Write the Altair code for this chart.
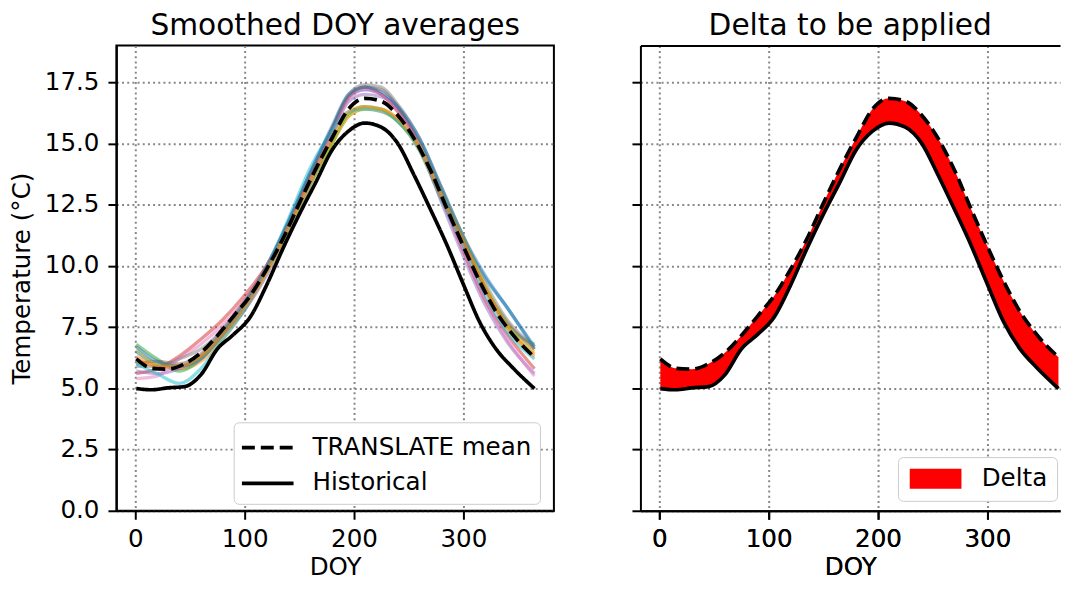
import altair as alt
import pandas as pd

FONT = "DejaVu Sans"

# ---- data ----
days_black = [1, 15, 30, 45, 60, 75, 90, 105, 120, 135, 150, 165, 180, 195, 210,
              225, 240, 255, 270, 285, 300, 315, 330, 345, 365]
historical = [4.99, 4.94, 5.02, 5.07, 5.55, 6.6, 7.2, 7.9, 9.2, 10.7, 12.1, 13.4,
              14.73, 15.5, 15.83, 15.66, 15.0, 13.7, 12.3, 10.85, 9.25, 7.7, 6.6, 5.85, 4.99]
translate_mean = [6.2, 5.82, 5.78, 6.0, 6.45, 7.15, 7.95, 8.77, 9.85, 11.1, 12.55, 13.95,
                  15.22, 16.4, 16.84, 16.72, 16.15, 15.2, 13.9, 12.33, 10.8, 9.36, 8.12, 7.2, 6.27]

days_members = [1, 20, 40, 60, 80, 100, 120, 140, 160, 180, 195, 210, 225, 240,
                260, 280, 300, 320, 340, 365]
member_01 = [6.5, 6.0, 5.9, 6.3, 7.3, 8.5, 10.0, 11.8, 13.8, 15.6, 16.9, 17.2, 17.0, 16.4, 15.1, 13.1, 11.1, 9.5, 8.3, 6.6]
member_02 = [6.3, 5.9, 5.8, 6.1, 7.0, 8.2, 9.7, 11.5, 13.4, 15.0, 16.1, 16.4, 16.3, 15.9, 14.7, 12.7, 10.9, 9.0, 7.5, 6.4]
member_03 = [6.8, 6.2, 5.7, 6.2, 7.2, 8.5, 9.8, 11.4, 13.3, 15.0, 16.2, 16.5, 16.4, 15.9, 14.8, 12.8, 11.0, 9.1, 7.6, 6.8]
member_04 = [5.6, 5.8, 6.3, 7.0, 7.8, 8.8, 10.0, 11.7, 13.7, 15.6, 16.9, 17.3, 17.0, 16.3, 14.9, 12.8, 10.6, 8.6, 7.2, 5.8]
member_05 = [5.7, 5.6, 5.8, 6.3, 7.2, 8.2, 9.6, 11.3, 13.3, 15.3, 16.7, 17.0, 16.9, 16.5, 14.9, 12.6, 10.4, 8.4, 6.9, 5.6]
member_06 = [6.0, 6.1, 6.0, 6.4, 7.4, 8.6, 9.9, 11.7, 13.6, 15.5, 16.9, 17.3, 17.2, 16.5, 15.0, 13.0, 11.0, 9.1, 7.7, 6.6]
member_07 = [5.4, 5.5, 6.2, 6.8, 7.6, 8.6, 9.9, 11.6, 13.5, 15.4, 16.8, 17.2, 17.0, 16.3, 14.9, 12.8, 10.6, 8.6, 7.0, 5.5]
member_08 = [5.9, 5.9, 6.2, 6.6, 7.4, 8.5, 9.9, 11.6, 13.7, 15.6, 17.0, 17.4, 17.3, 16.6, 15.2, 13.2, 11.2, 9.3, 7.8, 6.7]
member_09 = [6.6, 6.0, 5.9, 6.3, 7.2, 8.3, 9.7, 11.4, 13.3, 15.0, 16.1, 16.4, 16.4, 16.0, 14.9, 13.0, 11.2, 9.2, 7.6, 6.5]
member_10 = [6.0, 5.6, 5.2, 5.8, 7.0, 8.2, 9.9, 11.9, 14.0, 15.5, 16.3, 16.4, 16.3, 15.9, 14.7, 12.7, 10.8, 8.8, 7.3, 6.2]
member_11 = [6.7, 6.1, 5.9, 6.2, 7.2, 8.4, 9.9, 11.8, 13.8, 15.7, 17.0, 17.3, 17.1, 16.5, 15.2, 13.2, 11.2, 9.6, 8.3, 6.7]
member_12 = [6.2, 5.9, 5.9, 6.3, 7.2, 8.3, 9.8, 11.6, 13.5, 15.2, 16.3, 16.5, 16.4, 16.0, 14.8, 12.8, 11.0, 9.1, 7.5, 6.3]
members = [member_01, member_02, member_03, member_04, member_05, member_06,
           member_07, member_08, member_09, member_10, member_11, member_12]
member_colors = ["#1f77b4", "#ff7f0e", "#2ca02c", "#d62728", "#9467bd", "#8c564b",
                 "#e377c2", "#7f7f7f", "#bcbd22", "#17becf", "#1f77b4", "#ff7f0e"]

series_names = ["TRANSLATE mean", "Historical"]
x_ticks = [0, 100, 200, 300]
y_ticks = [0, 2.5, 5, 7.5, 10, 12.5, 15, 17.5]

# ---- tables ----
member_names = [f"m{i+1:02d}" for i in range(len(members))]
df_members = pd.DataFrame(
    [{"doy": d, "temp": v, "member": member_names[i]}
     for i, vals in enumerate(members) for d, v in zip(days_members, vals)]
)
df_black = pd.DataFrame(
    [{"doy": d, "temp": v, "series": "TRANSLATE mean"} for d, v in zip(days_black, translate_mean)]
    + [{"doy": d, "temp": v, "series": "Historical"} for d, v in zip(days_black, historical)]
)
df_wide = pd.DataFrame({"doy": days_black, "hist": historical, "mean": translate_mean,
                        "label": ["Delta"] * len(days_black)})

# ---- scales / axes ----
FS = 24.7
PX_PER_DAY = 1.1
W_L, W_R, H = 440, 422, 468
xscale_l = alt.Scale(domain=[-17.2, -17.2 + W_L / PX_PER_DAY], nice=False, zero=False)
xscale_r = alt.Scale(domain=[-17.2, -17.2 + W_R / PX_PER_DAY], nice=False, zero=False)
yscale = alt.Scale(domain=[0, 19], nice=False, zero=False)
xaxis = alt.Axis(values=x_ticks, format="d", title="DOY")
xaxis_top = alt.Axis(orient="top", labels=False, ticks=False, title=None, grid=False, domain=True)
yaxis_left = alt.Axis(values=y_ticks, format=".1f", title="Temperature (°C)")
yaxis_right = alt.Axis(values=y_ticks, labels=False, title=None)

title_kw = dict(fontSize=29.8, font=FONT, fontWeight="normal", color="black",
                offset=-25, baseline="bottom")

# ---- left panel ----
members_layer = alt.Chart(df_members).mark_line(
    strokeWidth=3.3, opacity=0.5, interpolate="monotone"
).encode(
    x=alt.X("doy:Q", scale=xscale_l, axis=xaxis),
    y=alt.Y("temp:Q", scale=yscale, axis=yaxis_left),
    color=alt.Color("member:N", scale=alt.Scale(domain=member_names, range=member_colors), legend=None),
)

black_layer = alt.Chart(df_black).mark_line(
    color="black", strokeWidth=3.7, interpolate="monotone"
).encode(
    x=alt.X("doy:Q", scale=xscale_l, axis=xaxis),
    y=alt.Y("temp:Q", scale=yscale, axis=yaxis_left),
    strokeDash=alt.StrokeDash(
        "series:N",
        scale=alt.Scale(domain=series_names, range=[[13, 6], [1, 0]]),
        legend=alt.Legend(
            title=None, orient="none", legendX=118, legendY=379,
            symbolType="M-1.73,0L1.73,0", symbolSize=900, symbolStrokeWidth=3.7,
            symbolStrokeColor="black", symbolOffset=8.7,
            labelFontSize=FS, labelFont=FONT, labelLimit=400,
            labelColor="black", labelOffset=28, rowPadding=7, padding=8.5,
            fillColor="white", strokeColor="#cccccc", cornerRadius=5,
        ),
    ),
)

left = alt.layer(members_layer, black_layer).properties(
    width=W_L, height=H,
    title=alt.TitleParams("Smoothed DOY averages", **title_kw),
)

# ---- right panel ----
area_layer = alt.Chart(df_wide).mark_area(interpolate="monotone", opacity=1).encode(
    x=alt.X("doy:Q", scale=xscale_r, axis=xaxis),
    y=alt.Y("hist:Q", scale=yscale, axis=yaxis_right),
    y2="mean:Q",
    fill=alt.Fill(
        "label:N",
        scale=alt.Scale(domain=["Delta"], range=["red"]),
        legend=alt.Legend(
            title=None, orient="none", legendX=259, legendY=414,
            symbolType="M-2.6,-1L2.6,-1L2.6,1L-2.6,1Z", symbolSize=400,
            symbolStrokeWidth=0, symbolOpacity=1, symbolOffset=16,
            labelFontSize=FS, labelFont=FONT, labelLimit=400,
            labelColor="black", labelOffset=34, padding=9.5,
            fillColor="white", strokeColor="#cccccc", cornerRadius=5,
        ),
    ),
)
mean_line_r = alt.Chart(df_wide).mark_line(
    color="black", strokeWidth=3.7, strokeDash=[13, 6], interpolate="monotone"
).encode(
    x=alt.X("doy:Q", scale=xscale_r, axis=xaxis_top),
    y=alt.Y("mean:Q", scale=yscale, axis=yaxis_right),
)
hist_line_r = alt.Chart(df_wide).mark_line(
    color="black", strokeWidth=3.7, interpolate="monotone"
).encode(
    x=alt.X("doy:Q", scale=xscale_r, axis=xaxis),
    y=alt.Y("hist:Q", scale=yscale, axis=yaxis_right),
)

right = alt.layer(area_layer, mean_line_r, hist_line_r).resolve_axis(
    x="independent"
).properties(
    width=W_R, height=H,
    title=alt.TitleParams("Delta to be applied", **title_kw),
    view=alt.ViewBackground(stroke="transparent"),
)

chart = alt.hconcat(left, right, spacing=75).resolve_scale(
    color="independent", fill="independent", strokeDash="independent", x="independent"
).properties(
    padding={"left": 0, "top": 0, "right": 0, "bottom": 0}
).configure(
    background="white",
).configure_view(
    stroke="black", strokeWidth=2,
).configure_axis(
    labelFont=FONT, titleFont=FONT, labelFontSize=FS, titleFontSize=FS,
    labelColor="black", titleColor="black", titleFontWeight="normal",
    domainColor="black", domainWidth=2, tickColor="black", tickWidth=2, tickSize=8.5,
    gridColor="#888888", gridDash=[2, 3.2], gridWidth=2, gridOpacity=1,
).configure_axisX(
    labelPadding=7, titlePadding=4,
).configure_axisY(
    labelPadding=9, titlePadding=10,
)

chart.save("out.html", embed_options={"renderer": "svg", "actions": False})
